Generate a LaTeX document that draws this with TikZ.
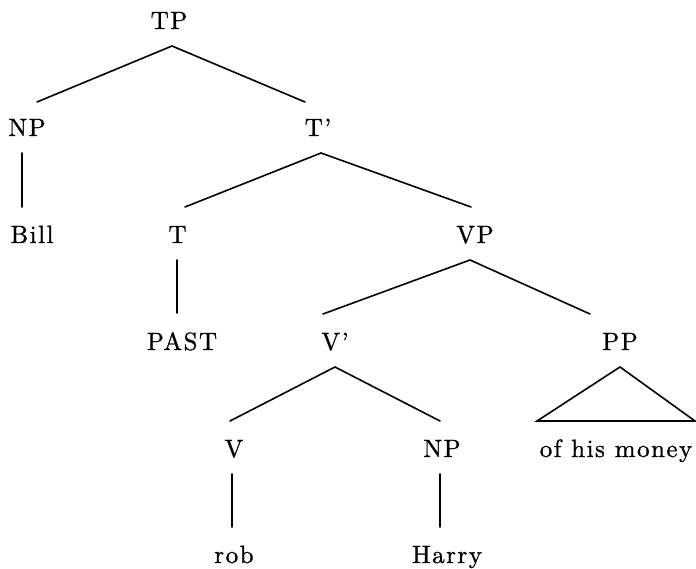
\documentclass[tikz,border=0pt]{standalone}
\usepackage{fontspec}
\newfontfamily\treefont{lmroman10-regular.otf}[Ligatures=TeX,LetterSpace=6,FakeBold=0.9]
\begin{document}
\begin{tikzpicture}[x=1pt,y=-1pt,
  lab/.style={inner sep=0pt,anchor=base,font=\treefont\fontsize{25}{30}\selectfont},
  br/.style={line width=1.6pt,line cap=round}]
\useasboundingbox (0,0) rectangle (696,569);
% labels (anchored at baseline)
\node[lab] (TP) at (169,29) {TP};
\node[lab] (NP1) at (27,136) {NP};
\node[lab] (Tbar) at (318,136) {T’};
\node[lab] (Bill) at (32,243) {Bill};
\node[lab] (T) at (177.5,243) {T};
\node[lab] (VP) at (475,243) {VP};
\node[lab] (PAST) at (182,350) {PAST};
\node[lab] (Vbar) at (335,350) {V’};
\node[lab] (PP) at (620,350) {PP};
\node[lab] (V) at (234,457) {V};
\node[lab] (NP2) at (442,457) {NP};
\node[lab] (money) at (616,457) {of his money};
\node[lab] (rob) at (234,563) {rob};
\node[lab] (Harry) at (447,563) {Harry};
% branch points
\coordinate (TPd) at (172,46);
\coordinate (NP1u) at (37,102);
\coordinate (Tbaru) at (305,102);
\coordinate (NP1d) at (22,153);
\coordinate (Billu) at (22,207);
\coordinate (Tbard) at (321,153);
\coordinate (Tu) at (185,207);
\coordinate (VPu) at (471,207);
\coordinate (Td) at (177,260);
\coordinate (PASTu) at (177,313);
\coordinate (VPd) at (470,260);
\coordinate (Vbaru) at (323,314);
\coordinate (PPu) at (590,314);
\coordinate (Vbard) at (335,367);
\coordinate (Vu) at (230,421);
\coordinate (NP2u) at (440,421);
\coordinate (PPd) at (620,367);
\coordinate (triL) at (537,421);
\coordinate (triR) at (695,421);
\coordinate (Vd) at (232,474);
\coordinate (robu) at (232,527);
\coordinate (NP2d) at (440,474);
\coordinate (Harryu) at (440,527);
% branches
\draw[br] (NP1u) -- (TPd) -- (Tbaru);
\draw[br] (NP1d) -- (Billu);
\draw[br] (Tu) -- (Tbard) -- (VPu);
\draw[br] (Td) -- (PASTu);
\draw[br] (Vbaru) -- (VPd) -- (PPu);
\draw[br] (Vu) -- (Vbard) -- (NP2u);
\draw[br,line join=miter] (PPd) -- (triL) -- (triR) -- cycle;
\draw[br] (Vd) -- (robu);
\draw[br] (NP2d) -- (Harryu);
\end{tikzpicture}
\end{document}
